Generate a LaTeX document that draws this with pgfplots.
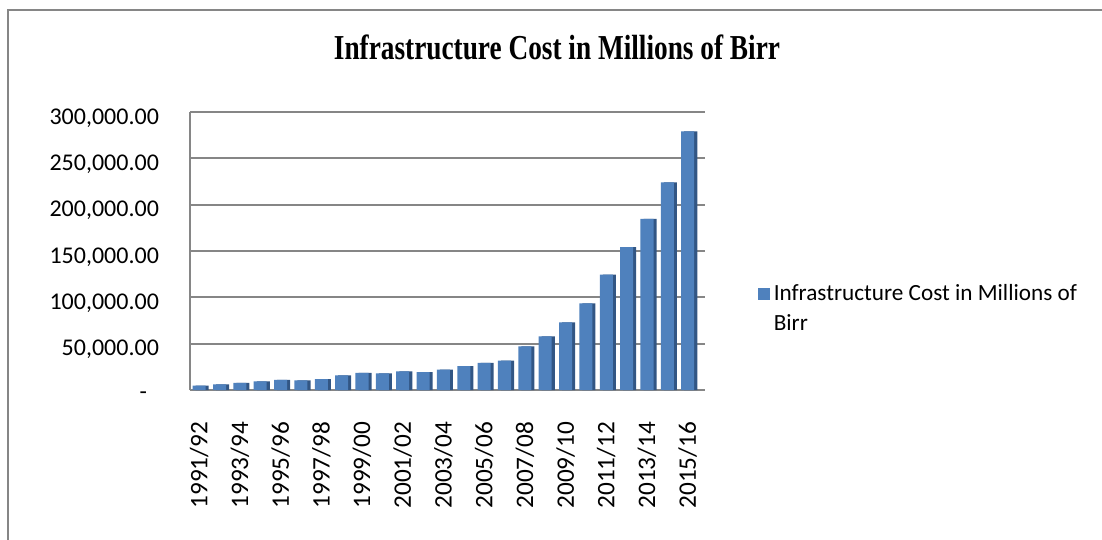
\documentclass[border=0pt]{standalone}
\usepackage{fontspec}
\setmainfont{Carlito}
\newfontfamily\titlefont[FakeStretch=0.78]{Liberation Serif}
\usepackage{pgfplots}
\pgfplotsset{compat=1.18}
\usepackage{pgfplotstable}
\definecolor{barblue}{RGB}{79,129,189}
\definecolor{barside}{RGB}{50,86,132}
\definecolor{gridgray}{RGB}{134,134,134}
\pgfplotstableread{
x y
0 4800
1 6000
2 7800
3 9300
4 11000
5 10400
6 11800
7 15700
8 18600
9 17900
10 20000
11 19300
12 22000
13 25700
14 29300
15 31800
16 47100
17 57900
18 72900
19 93600
20 124600
21 154300
22 184600
23 224000
24 279000
}\costdata
\begin{document}
\begin{tikzpicture}
\useasboundingbox (0,0) rectangle (551pt,270pt);
\draw[gridgray, line width=1pt] (4pt,0) -- (4pt,265pt) -- (551pt,265pt);
\begin{axis}[
  scale only axis,
  width=257.5pt, height=139pt,
  at={(95pt,75pt)}, anchor=south west,
  xmin=-0.45, xmax=24.85,
  ymin=0, ymax=300000,
  axis lines*=left,
  axis line style={gridgray, line width=1pt, -},
  ymajorgrids,
  grid style={gridgray, line width=1pt},
  major tick length=0pt,
  ytick={0,50000,100000,150000,200000,250000,300000},
  yticklabels={{-\kern6pt},{50,000.00},{100,000.00},{150,000.00},{200,000.00},{250,000.00},{300,000.00}},
  yticklabel style={font=\fontsize{12}{14}\selectfont, yshift=-3pt},
  yticklabel shift=12pt,
  scaled y ticks=false,
  xtick={0,2,...,24},
  xticklabels={1991/92,1993/94,1995/96,1997/98,1999/00,2001/02,2003/04,2005/06,2007/08,2009/10,2011/12,2013/14,2015/16},
  xticklabel style={font=\fontsize{12.6}{15}\selectfont, rotate=90, anchor=east},
  xticklabel shift=12.5pt,
  title={\titlefont\bfseries Infrastructure Cost in Millions of Birr},
  title style={font=\fontsize{17.5}{19}\selectfont, at={(rel axis cs:0.7126,1.19)}, anchor=center},
  legend style={draw=none, at={(rel axis cs:1.09,0.29)}, anchor=west,
    font=\fontsize{11.6}{15}\selectfont, cells={align=left}},
  legend cell align=left,
  legend image code/.code={\fill[barblue] (0cm,4.5pt) rectangle (6pt,10.5pt);},
]
\addplot[ybar, bar width=0.64, bar shift=0.15, fill=barside, draw=none, forget plot] table[x=x,y=y] {\costdata};
\addplot[ybar, bar width=0.64, bar shift=0, fill=barblue, draw=none] table[x=x,y=y] {\costdata};
\addlegendentry{Infrastructure Cost in Millions of\\Birr}
\end{axis}
\end{tikzpicture}
\end{document}
